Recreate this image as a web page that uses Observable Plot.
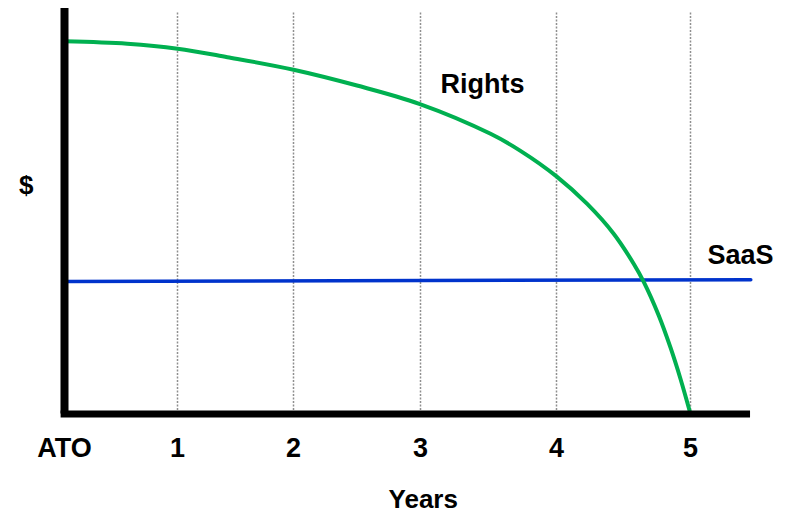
<!DOCTYPE html>
<html><head><meta charset="utf-8">
<script src="https://cdn.jsdelivr.net/npm/d3@7"></script>
<script src="https://cdn.jsdelivr.net/npm/@observablehq/plot@0.6"></script>
<style>html,body{margin:0;padding:0;background:#fff;}</style>
</head><body><div id="chart"></div>
<script>
const tickYears = [0, 1, 2, 3, 4, 5];
const tickLabels = ["ATO", "1", "2", "3", "4", "5"];
const gridYears = [1, 2, 3, 4, 5];
const rightsYears  = [0, 0.555, 1, 1.43, 2, 2.5, 2.99, 3.515, 3.735, 4, 4.229, 4.428, 4.577, 4.651, 4.763, 4.851, 4.925, 5];
const rightsValues = [91.9, 91.3, 90.1, 88.0, 84.9, 81.0, 76.5, 69.1, 64.9, 58.6, 51.8, 44.4, 37.0, 32.6, 24.3, 16.35, 8.7, 0];
const saasYears  = [0, 5.45];
const saasValues = [32.7, 33.1];
const seriesNames = ["Rights", "SaaS"];

const rights = rightsYears.map((x, i) => ({x, y: rightsValues[i]}));
const saas = saasYears.map((x, i) => ({x, y: saasValues[i]}));

const chart = Plot.plot({
  width: 790,
  height: 511,
  marginLeft: 64, marginRight: 100, marginTop: 8, marginBottom: 97.5,
  x: {type: "linear", domain: tickYears, range: [64, 177, 293, 420, 556, 690]},
  y: {type: "linear", domain: [0, 100], axis: null},
  style: {fontFamily: "'Liberation Sans', Arial, sans-serif", fontWeight: "bold", background: "#fff", color: "#000", overflow: "visible"},
  marks: [
    Plot.gridX(gridYears, {y1: 0, y2: 99, stroke: "#8f8f8f", strokeOpacity: 1, strokeWidth: 1.5, strokeDasharray: "2,1.5"}),
    Plot.line(saas, {x: "x", y: "y", stroke: "#0033cc", strokeWidth: 3.5}),
    Plot.line(rights, {x: "x", y: "y", stroke: "#00b050", strokeWidth: 4, curve: "catmull-rom"}),
    Plot.ruleX([0], {y1: 0, y2: 100, stroke: "#000", strokeWidth: 8}),
    Plot.ruleY([0], {x1: -0.03, x2: 5.448, stroke: "#000", strokeWidth: 7}),
    Plot.axisX(tickYears, {tickSize: 0, tickPadding: 23.5, fontSize: 27, label: null,
      tickFormat: d => tickLabels[tickYears.indexOf(d)]}),
    Plot.text([seriesNames[0]], {x: 3.456, y: 81.4, text: d => d, fontSize: 27}),
    Plot.text([seriesNames[1]], {x: 5.373, y: 39.2, text: d => d, fontSize: 27}),
    Plot.text(["$"], {x: -0.339, y: 56.3, text: d => d, fontSize: 26}),
    Plot.text(["Years"], {x: 3.02, y: -21.25, text: d => d, fontSize: 26})
  ]
});
document.getElementById("chart").appendChild(chart);
</script>
</body></html>
